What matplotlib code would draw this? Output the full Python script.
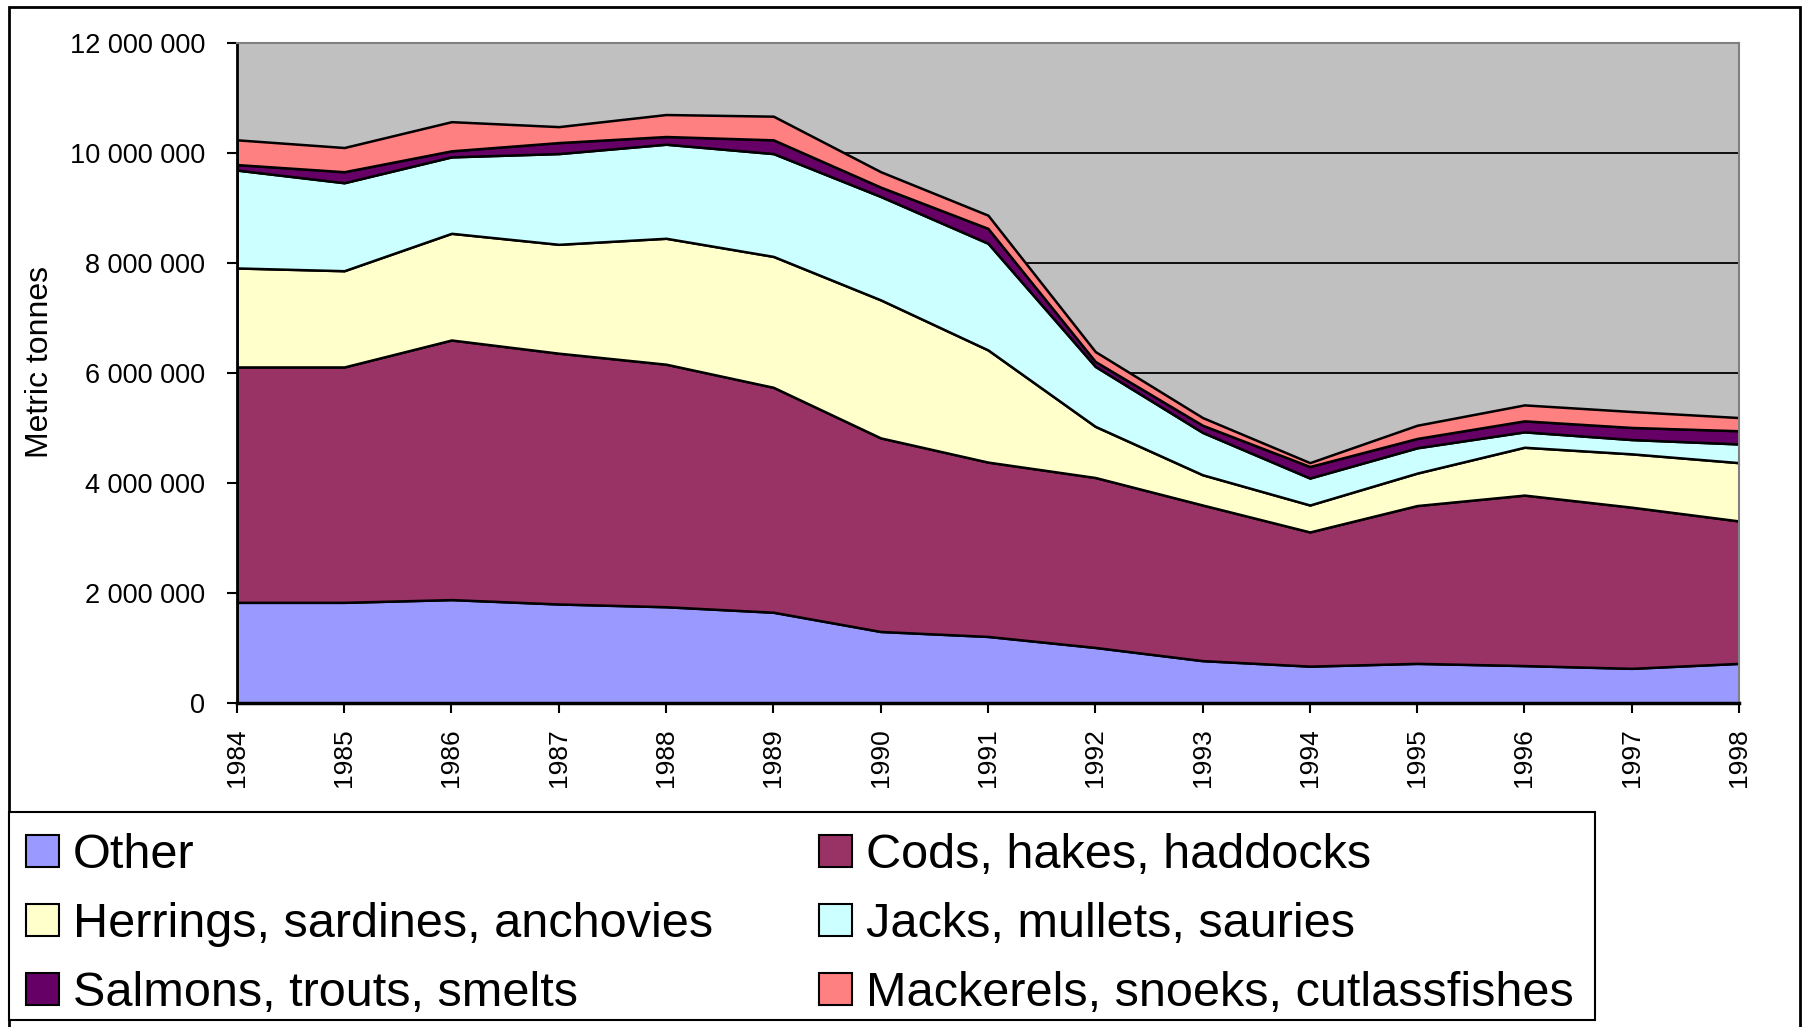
import matplotlib
matplotlib.use("Agg")
import matplotlib.pyplot as plt
from matplotlib.patches import Rectangle
from matplotlib.ticker import FuncFormatter, MultipleLocator

plt.rcParams['font.family'] = ['Liberation Sans', 'DejaVu Sans']

# world catch by species group, thousand tonnes
years = list(range(1984, 1999))
other = [1830, 1830, 1880, 1800, 1750, 1650, 1300, 1210, 1010, 770, 670, 720, 680, 630, 720]
cods = [4280, 4280, 4720, 4560, 4410, 4090, 3520, 3170, 3090, 2830, 2440, 2870, 3100, 2930, 2590]
herrings = [1800, 1750, 1940, 1980, 2290, 2380, 2510, 2040, 930, 550, 490, 590, 870, 970, 1060]
jacks = [1780, 1600, 1390, 1650, 1710, 1870, 1880, 1940, 1090, 770, 490, 460, 280, 260, 340]
salmons = [100, 200, 110, 200, 140, 250, 170, 270, 90, 130, 210, 170, 200, 220, 240]
mackerels = [450, 440, 530, 290, 400, 430, 280, 240, 180, 140, 70, 240, 290, 290, 240]

labels = ["Other", "Cods, hakes, haddocks", "Herrings, sardines, anchovies",
          "Jacks, mullets, sauries", "Salmons, trouts, smelts",
          "Mackerels, snoeks, cutlassfishes"]
colors = ["#9999FF", "#993366", "#FFFFCC", "#CCFFFF", "#660066", "#FF8080"]

series = [other, cods, herrings, jacks, salmons, mackerels]
series = [[v * 1000 for v in s] for s in series]

fig = plt.figure(figsize=(18.03, 10.27), dpi=100)

# outer chart frame and legend box
fig.patches.append(Rectangle((0.005, -0.01), 0.9935, 1.0032, transform=fig.transFigure,
                             fill=False, edgecolor='black', linewidth=2))
fig.patches.append(Rectangle((0.005, 0.0068), 0.8796, 0.2025, transform=fig.transFigure,
                             facecolor='white', edgecolor='black', linewidth=1.5))

ax = fig.add_axes([0.1314, 0.3155, 0.8331, 0.6426])
ax.set_facecolor('#C0C0C0')
ax.stackplot(years, *series, colors=colors, edgecolor='black', linewidth=1.8, zorder=3)

ax.set_xlim(1984, 1998)
ax.set_ylim(0, 12000000)
ax.yaxis.set_major_locator(MultipleLocator(2000000))
ax.yaxis.set_major_formatter(FuncFormatter(lambda v, p: f"{int(v):,}".replace(",", " ")))
ax.set_xticks(years)
ax.set_xticklabels([str(y) for y in years], rotation=90)
ax.grid(axis='y', color='black', linewidth=1.3, zorder=1)
ax.set_axisbelow(True)

ax.tick_params(axis='y', labelsize=19.5, length=7, width=1.5, pad=16, direction='out')
ax.tick_params(axis='x', labelsize=19, length=7, width=1.5, pad=11, direction='out')
ax.set_ylabel("Metric tonnes", fontsize=23)
ax.yaxis.set_label_coords(-0.121, 0.517)

for side in ['top', 'right']:
    ax.spines[side].set_color('#808080')
    ax.spines[side].set_linewidth(1.5)
ax.spines['left'].set_linewidth(2)
ax.spines['bottom'].set_linewidth(2.5)
for side in ax.spines:
    ax.spines[side].set_zorder(5)

handles = [Rectangle((0, 0), 1, 1, facecolor=c, edgecolor='black', linewidth=1.5) for c in colors]
order = [0, 2, 4, 1, 3, 5]
leg = fig.legend([handles[i] for i in order], [labels[i] for i in order],
                 ncol=2, loc='upper left', bbox_to_anchor=(0.0028, 1 - 812 / 1027),
                 borderaxespad=0, fontsize=35, frameon=False,
                 handlelength=0.68, handleheight=0.64, handletextpad=0.28,
                 labelspacing=0.487, borderpad=0.44, columnspacing=2.18)

fig.savefig("out.png", dpi=100)
